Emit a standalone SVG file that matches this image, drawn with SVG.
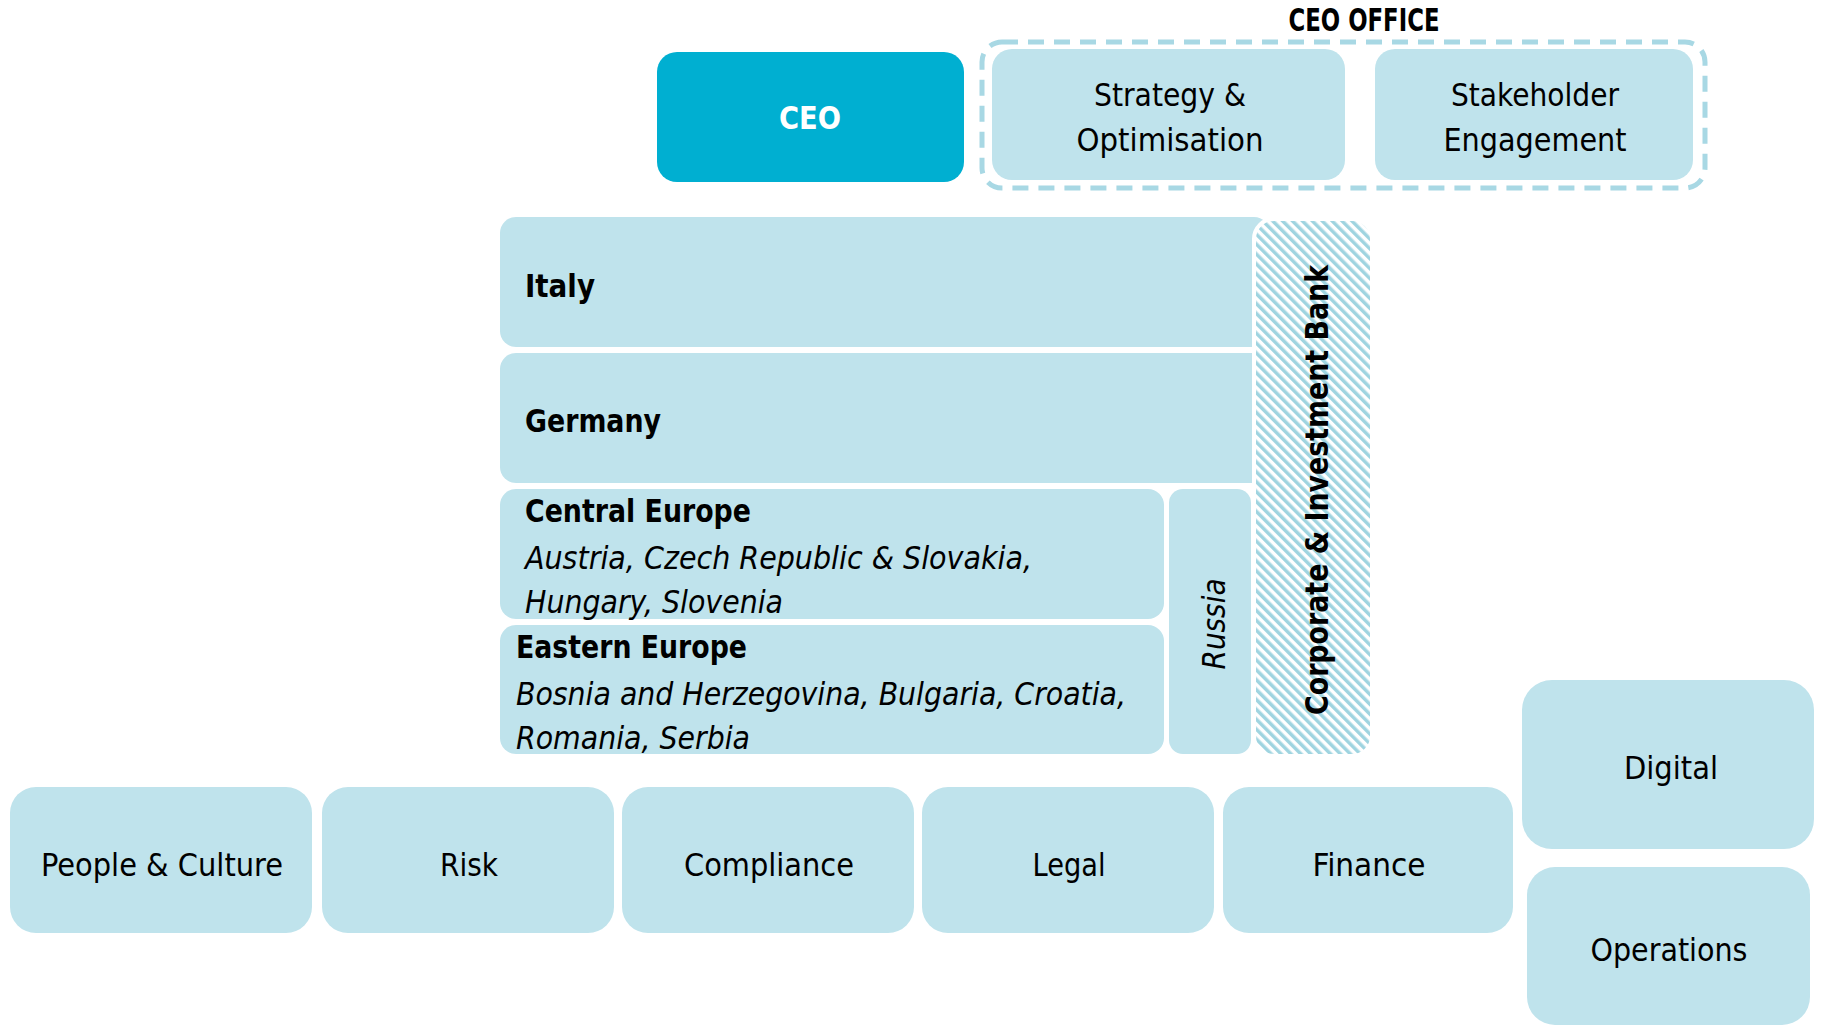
<svg xmlns="http://www.w3.org/2000/svg" width="1824" height="1028" viewBox="0 0 1824 1028">
<defs>
<style>
.box{fill:#BFE3EC;}
.ceo{fill:#00AFD1;}
.t{font-family:"Liberation Sans Narrow","DejaVu Sans Condensed","Roboto Condensed","Open Sans","Liberation Sans",sans-serif;font-stretch:condensed;fill:#000;font-size:32px;}
.b{font-weight:bold;}
.i{font-style:italic;}
.c{text-anchor:middle;}
</style>
<pattern id="hatch" patternUnits="userSpaceOnUse" width="7" height="7" patternTransform="rotate(-45)">
<rect x="0" y="0" width="7" height="7" fill="#FFFFFF"/>
<rect x="0" y="0" width="3.5" height="7" fill="#9FD4E0"/>
</pattern>
</defs>
<rect width="1824" height="1028" fill="#FFFFFF"/>

<g id="ceo-office">
<rect x="982" y="42" width="723" height="146" rx="20" fill="none" stroke="#A8D8E4" stroke-width="5" stroke-dasharray="16 10"/>
<text class="t b c" x="1364" y="31" font-size="27" textLength="151" lengthAdjust="spacingAndGlyphs">CEO OFFICE</text>
</g>

<g id="ceo">
<rect class="ceo" x="657" y="52" width="307" height="130" rx="20"/>
<text class="t b c" x="810" y="129" style="fill:#FFFFFF" textLength="62" lengthAdjust="spacingAndGlyphs">CEO</text>
</g>

<g id="strategy">
<rect class="box" x="992" y="49" width="353" height="131" rx="20"/>
<text class="t c" x="1170" y="106" textLength="152" lengthAdjust="spacingAndGlyphs">Strategy &amp;</text>
<text class="t c" x="1170" y="151" textLength="187" lengthAdjust="spacingAndGlyphs">Optimisation</text>
</g>

<g id="stakeholder">
<rect class="box" x="1375" y="49" width="318" height="131" rx="20"/>
<text class="t c" x="1535" y="106" textLength="168" lengthAdjust="spacingAndGlyphs">Stakeholder</text>
<text class="t c" x="1535" y="151" textLength="183" lengthAdjust="spacingAndGlyphs">Engagement</text>
</g>

<g id="italy">
<rect class="box" x="500" y="217" width="770" height="130" rx="16"/>
<text class="t b" x="525" y="297" textLength="70" lengthAdjust="spacingAndGlyphs">Italy</text>
</g>

<g id="germany">
<rect class="box" x="500" y="353" width="770" height="130" rx="16"/>
<text class="t b" x="525" y="432" textLength="136" lengthAdjust="spacingAndGlyphs">Germany</text>
</g>

<g id="central-europe">
<rect class="box" x="500" y="489" width="664" height="130" rx="16"/>
<text class="t b" x="525" y="522" textLength="226" lengthAdjust="spacingAndGlyphs">Central Europe</text>
<text class="t i" x="525" y="569" textLength="507" lengthAdjust="spacingAndGlyphs">Austria, Czech Republic &amp; Slovakia,</text>
<text class="t i" x="525" y="613" textLength="258" lengthAdjust="spacingAndGlyphs">Hungary, Slovenia</text>
</g>

<g id="eastern-europe">
<rect class="box" x="500" y="625" width="664" height="129" rx="16"/>
<text class="t b" x="516" y="658" textLength="231" lengthAdjust="spacingAndGlyphs">Eastern Europe</text>
<text class="t i" x="516" y="705" textLength="610" lengthAdjust="spacingAndGlyphs">Bosnia and Herzegovina, Bulgaria, Croatia,</text>
<text class="t i" x="516" y="749" textLength="234" lengthAdjust="spacingAndGlyphs">Romania, Serbia</text>
</g>

<g id="russia">
<rect class="box" x="1169" y="489" width="82" height="265" rx="14"/>
<text class="t i c" transform="translate(1225,624) rotate(-90)" x="0" y="0" font-size="34" textLength="91" lengthAdjust="spacingAndGlyphs">Russia</text>
</g>

<g id="cib">
<rect x="1254" y="219" width="118" height="537" rx="20" fill="url(#hatch)" stroke="#FFFFFF" stroke-width="4"/>
<text class="t b c" transform="translate(1328,490) rotate(-90)" x="0" y="0" textLength="450" lengthAdjust="spacingAndGlyphs">Corporate &amp; Investment Bank</text>
</g>

<g id="people-culture">
<rect class="box" x="10" y="787" width="302" height="146" rx="26"/>
<text class="t c" x="162" y="876" textLength="242" lengthAdjust="spacingAndGlyphs">People &amp; Culture</text>
</g>
<g id="risk">
<rect class="box" x="322" y="787" width="292" height="146" rx="26"/>
<text class="t c" x="469" y="876" textLength="58" lengthAdjust="spacingAndGlyphs">Risk</text>
</g>
<g id="compliance">
<rect class="box" x="622" y="787" width="292" height="146" rx="26"/>
<text class="t c" x="769" y="876" textLength="170" lengthAdjust="spacingAndGlyphs">Compliance</text>
</g>
<g id="legal">
<rect class="box" x="922" y="787" width="292" height="146" rx="26"/>
<text class="t c" x="1069" y="876" textLength="73" lengthAdjust="spacingAndGlyphs">Legal</text>
</g>
<g id="finance">
<rect class="box" x="1223" y="787" width="290" height="146" rx="26"/>
<text class="t c" x="1369" y="876" textLength="113" lengthAdjust="spacingAndGlyphs">Finance</text>
</g>
<g id="digital">
<rect class="box" x="1522" y="680" width="292" height="169" rx="30"/>
<text class="t c" x="1671" y="779" textLength="94" lengthAdjust="spacingAndGlyphs">Digital</text>
</g>
<g id="operations">
<rect class="box" x="1527" y="867" width="283" height="158" rx="28"/>
<text class="t c" x="1669" y="961" textLength="157" lengthAdjust="spacingAndGlyphs">Operations</text>
</g>

<g id="connectors"></g>
</svg>
